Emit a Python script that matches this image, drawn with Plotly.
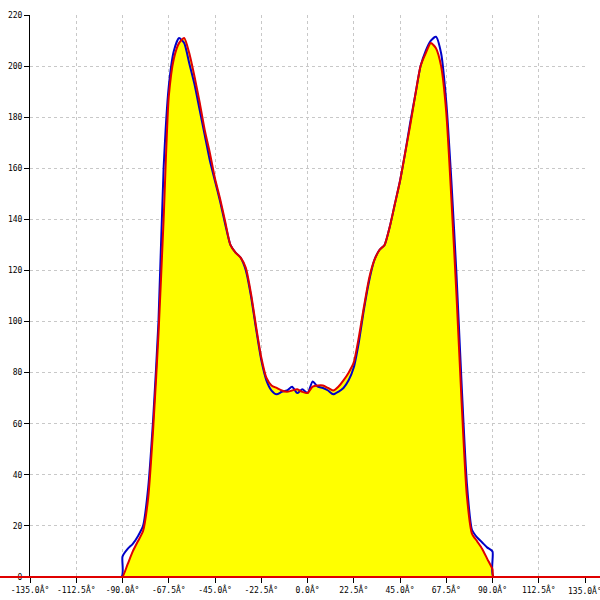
import plotly.graph_objects as go

# angles in degrees
angles = [-135, -90.5, -90, -87.5, -85, -82.5, -80, -77.5, -75, -72.5, -70, -67.5, -65, -62.5, -60,
          -57.5, -55, -52.5, -50, -47.5, -45, -42.5, -40, -37.5, -35, -32.5, -30, -27.5, -25,
          -22.5, -20, -17.5, -15, -12.5, -10, -7.5, -5, -2.5, 0, 2.5, 5, 7.5, 10, 12.5, 15,
          17.5, 20, 22.5, 25, 27.5, 30, 32.5, 35, 37.5, 40, 42.5, 45, 47.5, 50, 52.5, 55,
          57.5, 60, 62.5, 65, 67.5, 70, 72.5, 75, 77.5, 80, 82.5, 85, 87.5, 90, 90.5, 135]

blue = [0, 0, 8, 11, 13, 16, 20, 35, 63, 100, 160, 192, 206, 211, 209,
        201, 193, 183, 173, 163, 155, 147, 138, 130, 127, 125, 120, 110, 97,
        85, 77, 73, 71.5, 72.5, 73, 74.5, 72, 73.5, 72, 76.5, 74.5, 74, 73, 71.5, 72.5,
        74, 77, 82, 92, 105, 116, 124, 128, 130, 137, 146, 155, 166, 178, 189, 200,
        206, 210, 211.5, 205, 186, 155, 118, 75, 37, 18.5, 15.5, 13.5, 11.5, 10, 0, 0]

red = [0, 0, 0, 5, 10, 14, 18, 31, 59, 95, 140, 188, 203, 209, 211,
       205, 196, 186, 175, 166, 156, 148, 139, 130, 127, 125, 121, 111, 98,
       86, 78, 75, 74, 73, 72.5, 73, 73.5, 72.5, 72, 74.5, 75, 75, 74, 73, 74.5,
       77, 80, 84, 94, 106, 117, 124, 128, 130, 137, 146, 155, 166, 177, 189, 200,
       205, 209, 207, 200, 182, 148, 110, 68, 32, 17, 14, 11, 7, 3, 0, 0]

x_ticks = [-135, -112.5, -90, -67.5, -45, -22.5, 0, 22.5, 45, 67.5, 90, 112.5, 135]
x_tick_labels = ["%.1f\u00c2\u00b0" % v for v in x_ticks]
y_ticks = list(range(0, 221, 20))

RED = "#e00000"
BLUE = "#0000c8"

fig = go.Figure()
fig.add_trace(go.Scatter(x=angles, y=red, mode="lines",
                         line=dict(width=0, color="rgba(0,0,0,0)", shape="spline", smoothing=0.6),
                         fill="tozeroy", fillcolor="#ffff00", hoverinfo="skip", showlegend=False))
fig.add_trace(go.Scatter(x=angles, y=blue, mode="lines",
                         line=dict(width=2, color=BLUE, shape="spline", smoothing=0.6),
                         showlegend=False))
fig.add_trace(go.Scatter(x=angles, y=red, mode="lines",
                         line=dict(width=2, color=RED, shape="spline", smoothing=0.6),
                         showlegend=False))

# baseline extending beyond the plot area
fig.add_shape(type="line", xref="paper", yref="paper", x0=-0.06, x1=1.03, y0=0, y1=0,
              line=dict(color=RED, width=2), layer="above")

font = dict(family="DejaVu Sans Mono", size=8, color="black")

# last tick label would be dropped by plotly (runs off the page) -> draw it as annotation
shown_labels = x_tick_labels[:-1] + [""]
fig.add_annotation(x=x_ticks[-1], xref="x", y=0, yref="paper", text=x_tick_labels[-1],
                   showarrow=False, xanchor="center", yanchor="top", yshift=-6, font=font)

fig.update_layout(
    width=600, height=600,
    margin=dict(l=30, r=15, t=15, b=23, pad=0),
    plot_bgcolor="white", paper_bgcolor="white",
    font=font,
    xaxis=dict(range=[-135, 135], tickmode="array", tickvals=x_ticks, ticktext=shown_labels,
               showgrid=True, gridcolor="#c8c8c8", griddash="3px,3px", gridwidth=1,
               showline=True, linecolor="black", linewidth=1, ticks="outside", ticklen=5,
               tickcolor="black", zeroline=False, layer="below traces", tickfont=font,
               automargin=False),
    yaxis=dict(range=[0, 220], tickmode="array", tickvals=y_ticks,
               showgrid=True, gridcolor="#c8c8c8", griddash="3px,3px", gridwidth=1,
               showline=True, linecolor="black", linewidth=1, ticks="outside", ticklen=5,
               tickcolor="black", zeroline=False, tickfont=font, automargin=False),
)

fig.write_html("out.html", config={"displayModeBar": False},
               post_script="document.body.style.margin='0px';")
